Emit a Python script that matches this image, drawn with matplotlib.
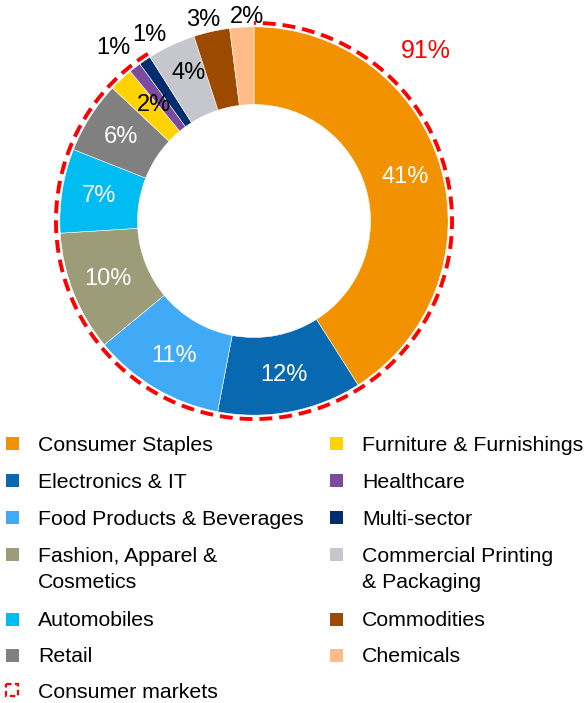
import numpy as np
import matplotlib
matplotlib.use("Agg")
import matplotlib.pyplot as plt
from matplotlib.patches import Arc, Rectangle

plt.rcParams['font.family'] = ['Liberation Sans', 'DejaVu Sans']

sectors = ['Consumer Staples', 'Electronics & IT', 'Food Products & Beverages',
           'Fashion, Apparel &\nCosmetics', 'Automobiles', 'Retail',
           'Furniture & Furnishings', 'Healthcare', 'Multi-sector',
           'Commercial Printing\n& Packaging', 'Commodities', 'Chemicals']
shares = [41, 12, 11, 10, 7, 6, 2, 1, 1, 4, 3, 2]
colors = ['#F39200', '#0868B0', '#41AAF7', '#9C9C78', '#00BCF0', '#808080',
          '#FFD200', '#7B4BA0', '#002D6E', '#C6C7CC', '#9C4A00', '#FFBB88']
label_colors = ['white'] * 6 + ['black'] * 6
consumer_share = 91
consumer_label = 'Consumer markets'

# label placement per slice: radius and angle nudge (deg)
label_r = [0.81, 0.81, 0.81, 0.81, 0.81, 0.81, 0.79, 1.15, 1.10, 0.835, 1.065, 1.05]
label_da = [0, 0, 0, 0, 0, 0, -2.4, 1.3, -4.8, -1.5, 1.5, -1.7]

fig = plt.figure(figsize=(5.85, 7.03), dpi=100)

# pie axes: centre at (254, 221) px, radius 194 px
W = 466
ax = fig.add_axes([(254 - W / 2) / 585, (703 - 221 - W / 2) / 703, W / 585, W / 703])
wedges, _ = ax.pie(shares, colors=colors, startangle=90, counterclock=False,
                   radius=1.0, wedgeprops=dict(width=0.4, linewidth=0.4, edgecolor='white'))
ax.set_xlim(-1.2, 1.2)
ax.set_ylim(-1.2, 1.2)
ax.set_aspect('equal')
ax.axis('off')

for w, s, c, r, da in zip(wedges, shares, label_colors, label_r, label_da):
    ang = np.deg2rad((w.theta1 + w.theta2) / 2 + da)
    ax.text(r * np.cos(ang), r * np.sin(ang), f'{s}%', color=c, fontsize=17,
            ha='center', va='center')

end_angle = 90 - consumer_share / 100 * 360
ax.add_patch(Arc((0, 0), 2.04, 2.04, theta1=end_angle + 360, theta2=450,
                 color='#FF0000', lw=2.8, linestyle=(0, (3.3, 1.8))))
ax.text(0.885, 0.875, f'{consumer_share}%', color='#FF0000', fontsize=18,
        ha='center', va='center')

# legend drawn in pixel coordinates
lg = fig.add_axes([0, 0, 1, 1])
lg.set_xlim(0, 585)
lg.set_ylim(703, 0)
lg.axis('off')

rows_y = [443.5, 480.5, 517.5, 554, 619, 655, 690]
line_gap = 26
col_x = [(6, 38), (330, 362)]
fs = 15.3
for i, (name, col) in enumerate(zip(sectors, colors)):
    cx = col_x[i // 6]
    y = rows_y[i % 6]
    lg.add_patch(Rectangle((cx[0], y - 6.5), 13, 13, facecolor=col, edgecolor='none'))
    for k, line in enumerate(name.split('\n')):
        lg.text(cx[1], y + 7.5 + k * line_gap, line, fontsize=fs, va='baseline',
                ha='left', color='black')

y = rows_y[6]
lg.add_patch(Rectangle((6, y - 6), 12, 12, facecolor='none', edgecolor='#FF0000',
                       lw=1.6, linestyle=(0, (2.5, 1.5))))
lg.text(38, y + 7.5, consumer_label, fontsize=fs, va='baseline', ha='left', color='black')

fig.savefig('out.png', dpi=100)
